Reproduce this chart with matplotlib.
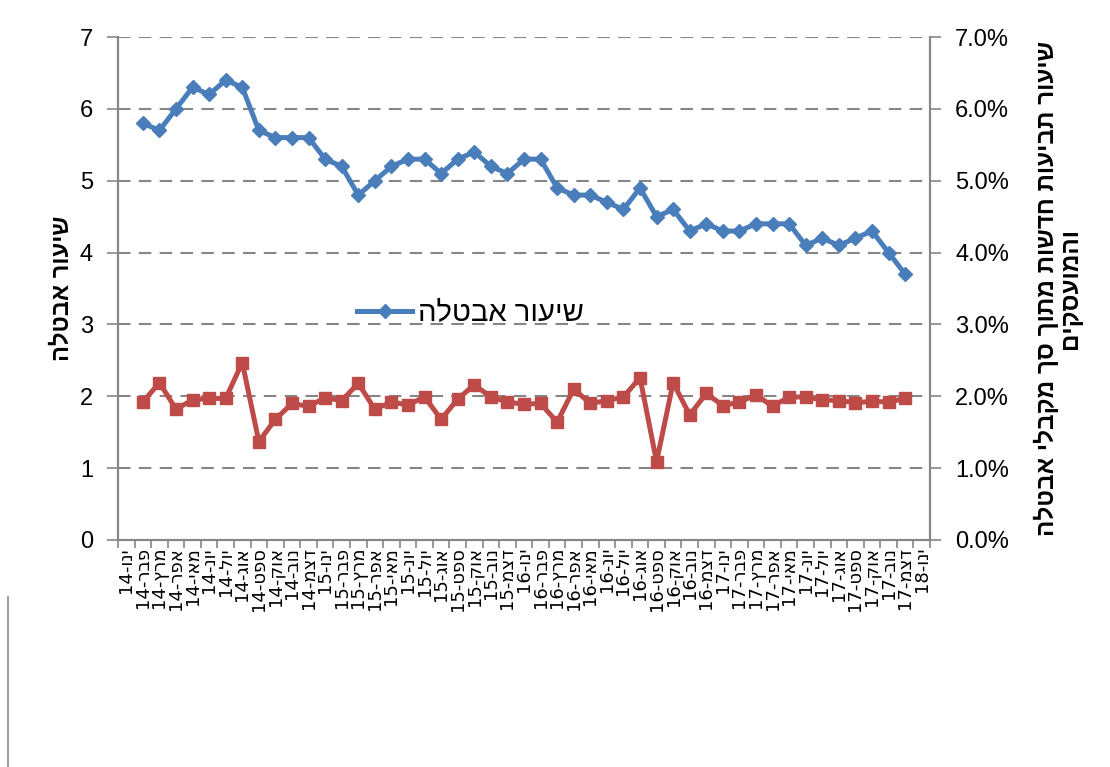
import matplotlib
matplotlib.use("Agg")
import matplotlib.pyplot as plt
import numpy as np
from matplotlib.lines import Line2D
from matplotlib.ticker import FixedLocator, FuncFormatter

plt.rcParams['font.family'] = ['Liberation Sans', 'DejaVu Sans']

def vis(s):
    # matplotlib has no bidi: reverse Hebrew strings to visual order
    return s[::-1]

months = ["ינו", "פבר", "מרץ", "אפר", "מאי", "יונ", "יול", "אוג", "ספט", "אוק", "נוב", "דצמ"]
years = ["14", "15", "16", "17"]
categories = [f"{m}-{y}" for y in years for m in months] + ["ינו-18"]

# unemployment rate (left axis), first and last categories empty
unemployment = [None,
    5.8, 5.7, 6.0, 6.3, 6.2, 6.4, 6.3, 5.7, 5.6, 5.6, 5.6,
    5.3, 5.2, 4.8, 5.0, 5.2, 5.3, 5.3, 5.1, 5.3, 5.4, 5.2, 5.1,
    5.3, 5.3, 4.9, 4.8, 4.8, 4.7, 4.6, 4.9, 4.5, 4.6, 4.3, 4.4,
    4.3, 4.3, 4.4, 4.4, 4.4, 4.1, 4.2, 4.1, 4.2, 4.3, 4.0, 3.7,
    None]

# new claims rate (right axis, percent)
claims = [None,
    1.92, 2.19, 1.82, 1.95, 1.97, 1.97, 2.47, 1.37, 1.68, 1.90, 1.86,
    1.98, 1.94, 2.18, 1.82, 1.92, 1.88, 1.99, 1.68, 1.96, 2.16, 1.99, 1.92,
    1.89, 1.90, 1.64, 2.10, 1.90, 1.94, 1.99, 2.26, 1.09, 2.19, 1.74, 2.04,
    1.87, 1.92, 2.02, 1.86, 1.99, 1.99, 1.95, 1.94, 1.91, 1.93, 1.92, 1.97,
    None]

left_ticks = [0, 1, 2, 3, 4, 5, 6, 7]

blue = "#4A7EBB"
red = "#BE4B48"
gray = "#868686"

fig = plt.figure(figsize=(11.1, 7.67), dpi=100)
ax = fig.add_axes([118/1110, 1-540/767, (930-118)/1110, (540-37)/767])
ax2 = ax.twinx()

x = np.arange(len(categories))
u = np.array([np.nan if v is None else v for v in unemployment], dtype=float)
c = np.array([np.nan if v is None else v for v in claims], dtype=float)

ax.plot(x, u, color=blue, lw=3.6, marker='D', ms=7, mec=blue, mfc=blue,
        label=vis("שיעור אבטלה"), zorder=3)
ax2.plot(x, c, color=red, lw=3.6, marker='s', ms=8.5, mec=red, mfc=red, zorder=3)

ax.set_xlim(-0.5, len(categories) - 0.5)
ax.set_ylim(0, 7)
ax2.set_ylim(0, 7)
ax.set_yticks(left_ticks)
ax2.set_yticks(left_ticks)
ax2.yaxis.set_major_formatter(FuncFormatter(lambda v, p: f"{v:.1f}%"))

for y in left_ticks[1:]:
    ax.axhline(y, color=gray, lw=1.5, ls=(0, (6, 4)), zorder=1)

ax.set_xticks(x)
ax.set_xticklabels(["%s-%s" % (lab.split('-')[1], vis(lab.split('-')[0])) for lab in categories],
                   rotation=90, fontsize=13, family=['DejaVu Sans'])
ax.xaxis.set_minor_locator(FixedLocator(np.arange(-0.5, len(categories), 1.0)))
ax.tick_params(axis='x', which='major', length=0, pad=5)
ax.tick_params(axis='x', which='minor', length=6, color=gray, width=1.2)
ax.tick_params(axis='y', length=8, color=gray, width=1.2, labelsize=17, pad=10)
ax2.tick_params(axis='y', length=8, color=gray, width=1.2, labelsize=17, pad=10)

for a in (ax, ax2):
    a.spines['top'].set_visible(False)
    for s in ('left', 'right', 'bottom'):
        a.spines[s].set_color(gray)
        a.spines[s].set_linewidth(1.5)

ax.set_ylabel(vis("שיעור אבטלה"), fontsize=17, fontweight='bold', labelpad=4)
ax2.set_ylabel(vis("שיעור תביעות חדשות מתוך סך מקבלי אבטלה") + "\n" + vis("והמועסקים"),
               fontsize=17.5, fontweight='bold', rotation=90, labelpad=18,
               multialignment='center', linespacing=1.0)

leg = ax.legend(loc='center left', bbox_to_anchor=((357-118)/812, (540-313)/503),
                frameon=False, fontsize=21, borderpad=0, borderaxespad=0,
                handlelength=1.9, handletextpad=0.2)

fig.add_artist(Line2D([8/1110, 8/1110], [0, 1-597/767], color="#A0A0A0", lw=1.5))

fig.savefig("out.png", dpi=100)
